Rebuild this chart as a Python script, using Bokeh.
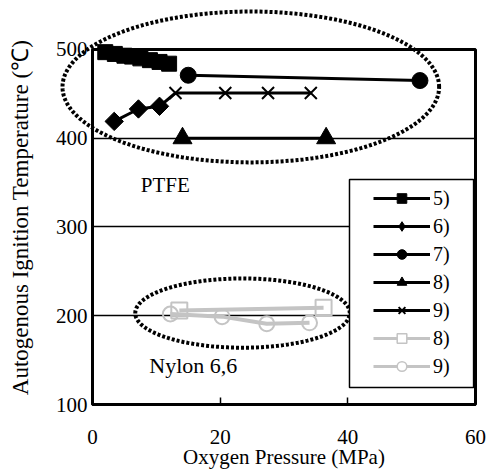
import numpy as np
from bokeh.plotting import figure
from bokeh.models import (Range1d, FixedTicker, PolyAnnotation, BoxAnnotation,
                          Legend, LegendItem, ColumnDataSource, Label)
from bokeh.core.properties import value
from bokeh.embed import file_html
from bokeh.resources import INLINE

# ---- data ----
s5_x = [2, 3.5, 5, 6.2, 7.5, 9, 10.5, 12]
s5_y = [497, 495, 493, 492, 490, 488, 486, 484]
s6_x = [3.4, 7.2, 10.5, 13]
s6_y = [419, 433, 436, 451]
s7_x = [15, 51.3]
s7_y = [471, 465]
s8_x = [14.1, 36.6]
s8_y = [400, 400]
s9_x = [13, 20.8, 27.5, 34.2]
s9_y = [451, 451, 451, 451]
n8_x = [13.6, 36.2]
n8_y = [206, 209]
n9_x = [12.2, 20.3, 27.3, 34]
n9_y = [202, 199, 191, 192]
legend_labels = ["5)", "6)", "7)", "8)", "9)", "8)", "9)"]
x_ticks = [0, 20, 40, 60]
y_ticks = [100, 200, 300, 400, 500]

FONT = "Liberation Serif"
GRAY = "#c4c4c4"

# The frame covers the whole canvas so the dotted ellipses can reach past the
# axes box; the axes are pinned at x=0 / y=100 with fixed_location.
p = figure(width=486, height=473, output_backend="svg", toolbar_location=None,
           x_range=Range1d(-14.413, 61.724), y_range=Range1d(22.254, 555.21),
           min_border_left=0, min_border_top=0, min_border_right=0,
           min_border_bottom=0)
p.title.visible = False
p.background_fill_color = "white"
p.border_fill_color = "white"
p.outline_line_color = None

p.xgrid.visible = False
yg = p.ygrid[0]
yg.grid_line_color = "black"
yg.grid_line_width = 1.5
yg.ticker = FixedTicker(ticks=y_ticks)
if "cross_bounds" in yg.properties():
    yg.cross_bounds = (0, 60)
    yg.bounds = (100, 500)
else:
    yg.visible = False
    p.segment(x0=[x_ticks[0]] * 3, x1=[x_ticks[-1]] * 3, y0=y_ticks[1:-1],
              y1=y_ticks[1:-1], line_color="black", line_width=1.5)

xa = p.xaxis[0]
ya = p.yaxis[0]
xa.ticker = FixedTicker(ticks=x_ticks)
ya.ticker = FixedTicker(ticks=y_ticks)
xa.bounds = (0, 60)
ya.bounds = (100, 500)
xa.fixed_location = 100
ya.fixed_location = 0
for ax in (xa, ya):
    ax.axis_line_color = "black"
    ax.axis_line_width = 3
    ax.major_label_text_font = FONT
    ax.major_label_text_font_size = "21px"
    ax.major_label_text_color = "black"
    ax.minor_tick_line_color = None
    ax.axis_label = None
xa.major_tick_in = 7
xa.major_tick_out = 0
xa.major_tick_line_width = 1.5
xa.major_tick_line_color = "black"
xa.major_label_standoff = 25
ya.major_tick_in = 0
ya.major_tick_out = 0
ya.major_label_standoff = 5

# axis titles
p.add_layout(Label(x=30, y=40.5, text="Oxygen Pressure (MPa)", text_font=FONT,
                   text_font_size="21px", text_color="black", text_align="center",
                   text_baseline="middle"))
p.add_layout(Label(x=-11.3, y=310.7, text="Autogenous Ignition Temperature (\u2103)",
                   angle=np.pi / 2, text_font=FONT, text_font_size="23px",
                   text_color="black", text_align="center", text_baseline="middle"))

# ---- axes box ----
p.add_layout(BoxAnnotation(left=0, right=60, bottom=100, top=500, fill_alpha=0,
                           line_color="black", line_alpha=1, line_width=3))

# ---- ellipses (dotted) ----
t = np.linspace(0, 2 * np.pi, 240)
def ell(cx, cy, ax_, ay_):
    return list(cx + ax_ * np.cos(t)), list(cy + ay_ * np.sin(t))
ex, ey = ell(24.8, 457.8, 29.5, 85)
p.add_layout(PolyAnnotation(xs=ex, ys=ey, fill_alpha=0, line_color="black", line_alpha=1,
                            line_width=4, line_dash="3 2"))
ex2, ey2 = ell(23.5, 203, 16.8, 39)
p.add_layout(PolyAnnotation(xs=ex2, ys=ey2, fill_alpha=0, line_color="black", line_alpha=1,
                            line_width=4, line_dash="3 2"))

# ---- series ----
LW = 3
p.line(s5_x, s5_y, line_color="black", line_width=LW)
p.scatter(s5_x, s5_y, marker="square", size=15, color="black")
p.line(s6_x, s6_y, line_color="black", line_width=LW)
p.scatter(s6_x[:3], s6_y[:3], marker="square", size=13, angle=np.pi / 4, color="black")
p.line(s7_x, s7_y, line_color="black", line_width=LW)
p.scatter(s7_x, s7_y, marker="circle", size=16, color="black")
p.line(s8_x, s8_y, line_color="black", line_width=LW)
p.scatter(s8_x, s8_y, marker="triangle", size=19, color="black")
p.line(s9_x, s9_y, line_color="black", line_width=LW)
p.scatter(s9_x, s9_y, marker="x", size=17, line_color="black", line_width=2)
p.line(n8_x, n8_y, line_color=GRAY, line_width=4)
p.scatter(n8_x, n8_y, marker="square", size=16, line_color=GRAY, line_width=2, fill_alpha=0)
p.line(n9_x, n9_y, line_color=GRAY, line_width=4)
p.scatter(n9_x, n9_y, marker="circle", size=15, line_color=GRAY, line_width=2, fill_alpha=0)

# ---- text labels ----
p.text(x=[11.4], y=[347], text=["PTFE"], text_font=value(FONT), text_font_size="21px",
       text_align="center", text_baseline="middle", text_color="black")
p.text(x=[15.8], y=[144], text=["Nylon 6,6"], text_font=value(FONT), text_font_size="22px",
       text_align="center", text_baseline="middle", text_color="black")

# ---- legend ----
p.add_layout(BoxAnnotation(left=40.26, right=59.7, bottom=119.2, top=353.5,
                           fill_color="white", fill_alpha=1,
                           line_color="black", line_alpha=1, line_width=1.5))
specs = [
    ("black", 3, "square", 14, "black", 1),
    ("black", 3, "diamond", 15, "black", 1),
    ("black", 3, "circle", 10, "black", 1),
    ("black", 3, "triangle", 12, "black", 1),
    ("black", 3, "x", 12, "black", 2),
    (GRAY, 3, "square", 9, None, 1.5),
    (GRAY, 3, "circle", 10, None, 1.5),
]
items = []
for lab, (lc, lw, mk, sz, fc, mlw) in zip(legend_labels, specs):
    src = ColumnDataSource(data=dict(x=[np.nan], y=[np.nan]))
    rl = p.line("x", "y", source=src, line_color=lc, line_width=lw)
    rs = p.scatter("x", "y", source=src, marker=mk, size=sz, line_color=lc,
                   line_width=mlw, fill_color=("white" if fc is None else fc))
    items.append(LegendItem(label=lab, renderers=[rl, rs]))

legend = Legend(items=items, location=(366, 88), padding=7, spacing=4,
                glyph_width=57, glyph_height=24, label_height=24,
                label_standoff=3, label_text_font=FONT, label_text_font_size="20px",
                label_text_color="black", border_line_alpha=0,
                background_fill_alpha=0, margin=0)
p.add_layout(legend, "center")

open("out.html", "w").write(file_html(p, INLINE))
